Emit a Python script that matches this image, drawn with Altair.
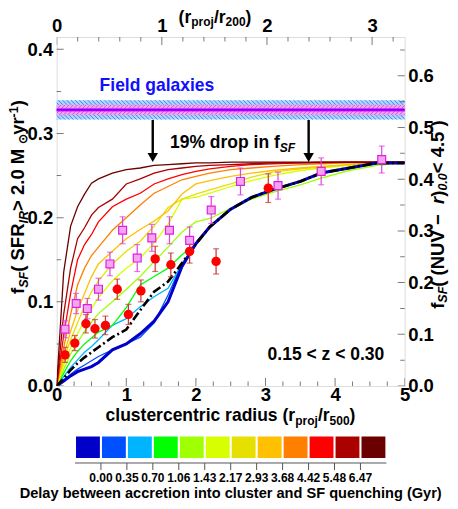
import altair as alt
import pandas as pd

# ---------------- data ----------------
GRID = [0, 0.1, 0.2, 0.3, 0.4, 0.5, 0.6, 0.8, 1.0, 1.2, 1.4, 1.6, 1.8, 2.0, 2.2, 2.5, 2.8, 3.1, 3.5, 3.8, 4.2, 4.6, 5.0]

M_DARKBLUE = [0, 0.006, 0.012, 0.017, 0.020, 0.023, 0.028, 0.043, 0.050, 0.062, 0.077, 0.100, 0.142, 0.169, 0.189, 0.210, 0.224, 0.233, 0.243, 0.253, 0.259, 0.265, 0.265]
M_BLUE     = [0, 0.007, 0.014, 0.020, 0.025, 0.030, 0.035, 0.043, 0.050, 0.058, 0.075, 0.108, 0.145, 0.169, 0.189, 0.210, 0.224, 0.233, 0.243, 0.253, 0.259, 0.265, 0.265]
M_CYAN     = [0, 0.011, 0.022, 0.031, 0.040, 0.047, 0.055, 0.072, 0.080, 0.094, 0.106, 0.116, 0.145, 0.169, 0.189, 0.210, 0.224, 0.233, 0.243, 0.253, 0.259, 0.265, 0.265]
M_GREEN    = [0, 0.015, 0.030, 0.041, 0.050, 0.057, 0.064, 0.072, 0.093, 0.120, 0.130, 0.140, 0.156, 0.169, 0.189, 0.210, 0.224, 0.233, 0.243, 0.253, 0.259, 0.265, 0.265]
M_LIME     = [0, 0.020, 0.038, 0.052, 0.065, 0.076, 0.086, 0.100, 0.115, 0.130, 0.148, 0.165, 0.183, 0.195, 0.199, 0.211, 0.222, 0.230, 0.239, 0.247, 0.256, 0.262, 0.265]
M_YELLOW   = [0, 0.025, 0.045, 0.062, 0.078, 0.092, 0.105, 0.125, 0.140, 0.152, 0.170, 0.192, 0.222, 0.224, 0.229, 0.237, 0.244, 0.250, 0.256, 0.259, 0.262, 0.264, 0.265]
M_OLIVE    = [0, 0.030, 0.055, 0.075, 0.095, 0.112, 0.125, 0.145, 0.160, 0.172, 0.190, 0.212, 0.222, 0.228, 0.233, 0.240, 0.248, 0.254, 0.258, 0.260, 0.263, 0.265, 0.266]
M_GOLD     = [0, 0.035, 0.065, 0.090, 0.110, 0.130, 0.145, 0.160, 0.175, 0.186, 0.196, 0.208, 0.228, 0.240, 0.244, 0.249, 0.253, 0.256, 0.259, 0.261, 0.263, 0.265, 0.266]
M_ORANGE   = [0, 0.045, 0.085, 0.120, 0.140, 0.155, 0.165, 0.185, 0.200, 0.215, 0.229, 0.237, 0.245, 0.249, 0.253, 0.257, 0.259, 0.261, 0.263, 0.264, 0.265, 0.265, 0.266]
M_RED      = [0, 0.060, 0.110, 0.150, 0.168, 0.180, 0.195, 0.213, 0.222, 0.229, 0.240, 0.246, 0.251, 0.255, 0.258, 0.261, 0.263, 0.264, 0.265, 0.265, 0.266, 0.266, 0.266]
M_DARKRED  = [0, 0.085, 0.140, 0.175, 0.188, 0.203, 0.212, 0.222, 0.240, 0.246, 0.253, 0.257, 0.259, 0.261, 0.262, 0.263, 0.264, 0.265, 0.265, 0.266, 0.266, 0.266, 0.266]
M_MAROON   = [0, 0.135, 0.190, 0.213, 0.228, 0.241, 0.246, 0.253, 0.257, 0.259, 0.262, 0.263, 0.264, 0.265, 0.265, 0.266, 0.266, 0.266, 0.266, 0.266, 0.266, 0.266, 0.266]
M_DASHDOT  = [0, 0.009, 0.019, 0.027, 0.034, 0.040, 0.046, 0.058, 0.067, 0.090, 0.112, 0.124, 0.146, 0.169, 0.189, 0.210, 0.224, 0.233, 0.243, 0.253, 0.259, 0.265, 0.265]

DELAY_LABELS = ["0.00", "0.35", "0.70", "1.06", "1.43", "2.17", "2.93", "3.68", "4.42", "5.48", "6.47"]
DELAY_COLORS = ["#0000c8", "#0050ff", "#00b4ff", "#00ff00", "#a0ff00", "#d8ff00",
                "#e6e000", "#ffc000", "#ff8000", "#ff0000", "#aa0000", "#6a0000"]

RED_X = [0.12, 0.26, 0.42, 0.55, 0.70, 0.87, 1.03, 1.21, 1.415, 1.64, 1.91, 2.29, 3.04]
RED_Y = [0.037, 0.051, 0.074, 0.068, 0.072, 0.115, 0.085, 0.113, 0.151, 0.144, 0.160, 0.148, 0.235]
RED_ERR = [0.009, 0.009, 0.011, 0.011, 0.011, 0.012, 0.012, 0.013, 0.015, 0.014, 0.014, 0.015, 0.017]

MAG_X = [0.12, 0.28, 0.44, 0.60, 0.765, 0.947, 1.157, 1.367, 1.62, 1.91, 2.22, 2.64, 3.18, 3.80, 4.67]
MAG_Y = [0.0675, 0.098, 0.092, 0.115, 0.145, 0.185, 0.152, 0.176, 0.185, 0.173, 0.209, 0.243, 0.238, 0.255, 0.269]
MAG_ERR = [0.010, 0.012, 0.012, 0.013, 0.014, 0.016, 0.016, 0.016, 0.016, 0.016, 0.016, 0.016, 0.016, 0.016, 0.016]

FIELD_MEAN = 0.328
FIELD_ERR_OUTER = 0.0115
FIELD_ERR_INNER = 0.006
ARROW_X = [1.38, 3.62]
ARROW_TOP = 0.316
ARROW_HEAD = 0.2715

X_TICKS = [i * 0.25 for i in range(21)]
Y_TICKS = [i * 0.05 for i in range(9)]
Y2_TICKS = [i * 0.05 for i in range(14)]
X2_TICKS = [i * 0.2 for i in range(17)]

# ---------------- geometry / style ----------------
W, H = 348, 349
X_MAX, Y_MAX = 5.0, 0.4146
Y2_MAX, X2_MAX = 0.675, 3.31
FONT = "Liberation Sans"
LBL = 18.5
TTL = 17.5
SUB = 12
VT = 18.5
VS = 12.5
PX_PER_X = W / X_MAX
PX_PER_Y = H / Y_MAX
NB = "\u00a0"

XS = alt.Scale(domain=[0, X_MAX], nice=False, zero=False)
YS = alt.Scale(domain=[0, Y_MAX], nice=False, zero=False)

# Arial-bold advance widths (em/1000) for layout of multi-part titles
_AW = {' ': 278, NB: 278, '(': 333, ')': 333, '/': 278, '.': 278, '<': 584, '>': 584, '%': 889, '-': 333, '−': 584, '⊙': 700}
_AW.update({d: 556 for d in '0123456789'})
_AW.update(dict(zip('abcdefghijklmnopqrstuvwxyz', [556, 611, 556, 611, 556, 333, 611, 611, 278, 278, 556, 278, 889, 611, 611, 611, 611, 389, 556, 333, 611, 556, 778, 556, 556, 500])))
_AW.update(dict(zip('ABCDEFGHIJKLMNOPQRSTUVWXYZ', [722, 722, 722, 722, 667, 611, 778, 722, 278, 556, 722, 611, 833, 722, 778, 667, 778, 722, 667, 611, 722, 667, 944, 667, 667, 611])))


def tw(s, size):
    return sum(_AW.get(c, 556) for c in s) / 1000.0 * size


def rich(pieces, x0, y0, vertical=False, color="black"):
    """pieces: (text, size, shift, italic). shift>0 lowers (subscript)."""
    layers = []
    pos = 0.0
    for text, size, shift, italic in pieces:
        if vertical:
            px, py, ang = x0 + shift, y0 - pos, 270
        else:
            px, py, ang = x0 + pos, y0 + shift, 0
        layers.append(
            alt.Chart(pd.DataFrame({"t": [text.replace(" ", NB)]})).mark_text(
                align="left", baseline="alphabetic", font=FONT, fontWeight="bold",
                fontSize=size, fontStyle="italic" if italic else "normal",
                angle=ang, color=color
            ).encode(x=alt.value(px), y=alt.value(py), text="t:N")
        )
        pos += tw(text, size)
    return layers


def centered(pieces, cx, y0, vertical=False, color="black"):
    total = sum(tw(t, s) for t, s, _, _ in pieces)
    if vertical:
        return rich(pieces, cx, y0 + total / 2, vertical=True, color=color)
    return rich(pieces, cx - total / 2, y0, color=color)


def ax(orient, values, fmt, pad):
    return alt.Axis(orient=orient, values=values, format=fmt, ticks=False, domain=False, grid=False,
                    labelPadding=pad, labelFont=FONT, labelFontWeight="bold", labelFontSize=LBL,
                    labelColor="black", title=None, labelFlush=False)


# ---------------- field band (hatched) ----------------
field = pd.DataFrame({"x0": [0], "x1": [X_MAX], "m": [FIELD_MEAN], "e1": [FIELD_ERR_OUTER], "e2": [FIELD_ERR_INNER]})
fbase = alt.Chart(field).transform_calculate(lo1="datum.m-datum.e1", hi1="datum.m+datum.e1", lo2="datum.m-datum.e2", hi2="datum.m+datum.e2")
band_outer = fbase.mark_rect(color="#a6dcf8").encode(x=alt.X("x0:Q", scale=XS), x2="x1:Q", y=alt.Y("lo1:Q", scale=YS), y2="hi1:Q")
band_inner = fbase.mark_rect(color="#f2a8f0").encode(x=alt.X("x0:Q", scale=XS), x2="x1:Q", y=alt.Y("lo2:Q", scale=YS), y2="hi2:Q")

step = 4.2 / PX_PER_X
d_out = 2 * FIELD_ERR_OUTER * PX_PER_Y / PX_PER_X
d_in = 2 * FIELD_ERR_INNER * PX_PER_Y / PX_PER_X
n_h = int((X_MAX + d_out) / step) + 2
hatch = pd.DataFrame({"k": list(range(n_h))})
hatch_out = alt.Chart(hatch).transform_calculate(
    xa=f"datum.k*{step}-{d_out}", xb=f"datum.k*{step}", ya=f"{FIELD_MEAN + FIELD_ERR_OUTER}", yb=f"{FIELD_MEAN - FIELD_ERR_OUTER}"
).mark_rule(color="#3c5cff", strokeWidth=0.8, clip=True).encode(x=alt.X("xa:Q", scale=XS), x2="xb:Q", y=alt.Y("ya:Q", scale=YS), y2="yb:Q")
hatch_in = alt.Chart(hatch).transform_calculate(
    xa=f"datum.k*{step}-{d_in}", xb=f"datum.k*{step}", ya=f"{FIELD_MEAN - FIELD_ERR_INNER}", yb=f"{FIELD_MEAN + FIELD_ERR_INNER}"
).mark_rule(color="#e030e0", strokeWidth=0.8, clip=True).encode(x=alt.X("xa:Q", scale=XS), x2="xb:Q", y=alt.Y("ya:Q", scale=YS), y2="yb:Q")
line_mag = fbase.mark_rule(color="#ff00ff", strokeWidth=3.2).encode(x=alt.X("x0:Q", scale=XS), x2="x1:Q", y=alt.Y("m:Q", scale=YS))
line_blue = fbase.mark_rule(color="#1a1aff", strokeWidth=1.2).encode(x=alt.X("x0:Q", scale=XS), x2="x1:Q", y=alt.Y("m:Q", scale=YS))

# ---------------- models ----------------
curve_names = ["d%02d" % i for i in range(12)]
curve_vals = [M_DARKBLUE, M_BLUE, M_CYAN, M_GREEN, M_LIME, M_YELLOW, M_OLIVE, M_GOLD, M_ORANGE, M_RED, M_DARKRED, M_MAROON]
rows = []
for n, vals in zip(curve_names[1:], curve_vals[1:]):
    for x, y in zip(GRID, vals):
        rows.append({"x": x, "y": y, "c": n})
models = pd.DataFrame(rows)

thin = alt.Chart(models).mark_line(strokeWidth=1.3, clip=True).encode(
    x=alt.X("x:Q", scale=XS, axis=ax("bottom", [0, 1, 2, 3, 4, 5], "d", 0)),
    y=alt.Y("y:Q", scale=YS, axis=ax("left", [0, 0.1, 0.2, 0.3, 0.4], ".1f", 4)),
    color=alt.Color("c:N", scale=alt.Scale(domain=curve_names[1:], range=DELAY_COLORS[1:]), legend=None),
    order=alt.Order("x:Q"),
)
thick_blue = alt.Chart(pd.DataFrame({"x": GRID, "y": M_DARKBLUE})).mark_line(
    strokeWidth=3, color=DELAY_COLORS[0], clip=True).encode(x=alt.X("x:Q", scale=XS), y=alt.Y("y:Q", scale=YS))
dashdot = alt.Chart(pd.DataFrame({"x": GRID, "y": M_DASHDOT})).mark_line(
    strokeWidth=2.6, color="black", strokeDash=[9, 3, 2, 3], clip=True).encode(x=alt.X("x:Q", scale=XS), y=alt.Y("y:Q", scale=YS))

# ---------------- arrows ----------------
arrows = pd.DataFrame({"x": ARROW_X, "top": [ARROW_TOP] * 2, "head": [ARROW_HEAD] * 2})
arrow_shaft = alt.Chart(arrows).mark_rule(color="black", strokeWidth=2.4).encode(x=alt.X("x:Q", scale=XS), y=alt.Y("top:Q", scale=YS), y2="head:Q")
arrow_head = alt.Chart(arrows).mark_point(shape="triangle-down", filled=True, color="black", size=110, opacity=1).encode(x=alt.X("x:Q", scale=XS), y=alt.Y("head:Q", scale=YS))

# ---------------- measurements ----------------
red = pd.DataFrame({"x": RED_X, "y": RED_Y, "e": RED_ERR})
mag = pd.DataFrame({"x": MAG_X, "y": MAG_Y, "e": MAG_ERR})


def errbars(df, color):
    b = alt.Chart(df).transform_calculate(lo="datum.y-datum.e", hi="datum.y+datum.e")
    bar = b.mark_rule(color=color, strokeWidth=1.2).encode(x=alt.X("x:Q", scale=XS), y=alt.Y("lo:Q", scale=YS), y2="hi:Q")
    cap1 = b.mark_tick(color=color, thickness=1.2, size=6, orient="horizontal").encode(x=alt.X("x:Q", scale=XS), y=alt.Y("lo:Q", scale=YS))
    cap2 = b.mark_tick(color=color, thickness=1.2, size=6, orient="horizontal").encode(x=alt.X("x:Q", scale=XS), y=alt.Y("hi:Q", scale=YS))
    return [bar, cap1, cap2]


mag_pts = alt.Chart(mag).mark_point(shape="square", filled=True, fill="#f2a6f2", stroke="#e020e0", strokeWidth=1.2, size=62, opacity=1).encode(x=alt.X("x:Q", scale=XS), y=alt.Y("y:Q", scale=YS))
red_pts = alt.Chart(red).mark_point(shape="circle", filled=True, color="#ff0000", size=88, opacity=1).encode(x=alt.X("x:Q", scale=XS), y=alt.Y("y:Q", scale=YS))

# inward ticks (IDL style)
xt = pd.DataFrame({"v": X_TICKS, "s": [16 if abs(v - round(v)) < 1e-9 else 9 for v in X_TICKS]})
yt = pd.DataFrame({"v": Y_TICKS, "s": [14 if abs(v * 10 - round(v * 10)) < 1e-9 else 9 for v in Y_TICKS]})
tick_b = alt.Chart(xt).mark_tick(color="#444", thickness=1, orient="vertical", clip=True).encode(x=alt.X("v:Q", scale=XS), y=alt.value(H), size=alt.Size("s:Q", scale=None))
tick_l = alt.Chart(yt).mark_tick(color="#444", thickness=1, orient="horizontal", clip=True).encode(y=alt.Y("v:Q", scale=YS), x=alt.value(0), size=alt.Size("s:Q", scale=None))

main_layers = [band_outer, hatch_out, band_inner, hatch_in, line_mag, line_blue, thin, thick_blue, dashdot,
               arrow_shaft, arrow_head] + errbars(mag, "#e040e0") + errbars(red, "#c83232") + [mag_pts, red_pts, tick_b, tick_l]

# ---------------- texts (pixel offsets from plot origin) ----------------
OX, OY = 56.7, 37.0
texts = []
texts += centered([("Field galaxies", TTL, 0, False)], 157 - OX, 90.5 - OY, color="#1010ff")
texts += rich([("19% drop in f", TTL, 0, False), ("SF", SUB, 4, True)], 170 - OX, 148 - OY)
texts += centered([("0.15 < z < 0.30", TTL, 0, False)], 326 - OX, 360 - OY)
texts += centered([("clustercentric radius (r", TTL, 0, False), ("proj", SUB, 4, False), ("/r", TTL, 0, False), ("500", SUB, 4, False), (")", TTL, 0, False)], 230.5 - OX, 421.5 - OY)
texts += centered([("(r", TTL, 0, False), ("proj", SUB, 3.5, False), ("/r", TTL, 0, False), ("200", SUB, 3.5, False), (")", TTL, 0, False)], 215 - OX, 22.5 - OY)
texts += centered([("f", VT, 0, False), ("SF", VS, 4, True), ("( SFR", VT, 0, False), ("IR", VS, 4, True), (" > 2.0 M", VT, 0, False), ("⊙", VS, 3, False), ("yr", VT, 0, False), ("-1", VS, -6, False), (")", VT, 0, False)], 24.5 - OX, 197 - OY, vertical=True)
texts += centered([("f", VT, 0, False), ("SF", VS, 3.5, True), (" ( (NUV − ", VT, 0, False), ("r", VT, 0, True), (")", VT, 0, False), ("0.0", VS, 3.5, True), (" < 4.5 )", VT, 0, False)], 444 - OX, 212 - OY, vertical=True)

main = alt.layer(*(main_layers + texts))

# ---------------- top / right axes ----------------
x2t = pd.DataFrame({"v": X2_TICKS, "s": [16 if abs(v - round(v)) < 1e-9 else 9 for v in X2_TICKS]})
top = alt.Chart(x2t).mark_tick(color="#444", thickness=1, orient="vertical", clip=True).encode(
    x=alt.X("v:Q", scale=alt.Scale(domain=[0, X2_MAX], nice=False, zero=False), axis=ax("top", [0, 1, 2, 3], "d", 2)),
    y=alt.value(0), size=alt.Size("s:Q", scale=None))

y2t = pd.DataFrame({"v": Y2_TICKS, "s": [14 if abs(v * 10 - round(v * 10)) < 1e-9 else 9 for v in Y2_TICKS]})
right = alt.Chart(y2t).mark_tick(color="#444", thickness=1, orient="horizontal", clip=True).encode(
    y=alt.Y("v:Q", scale=alt.Scale(domain=[0, Y2_MAX], nice=False, zero=False), axis=ax("right", [0, 0.1, 0.2, 0.3, 0.4, 0.5, 0.6], ".1f", 3)),
    x=alt.value(W), size=alt.Size("s:Q", scale=None))

# ---------------- colour bar (legend) ----------------
CB = alt.Scale(domain=[-0.704, 12.704], nice=False, zero=False)
cb = pd.DataFrame({"i": list(range(12)), "col": DELAY_COLORS})
cb_rect = alt.Chart(cb).transform_calculate(a="datum.i+0.04", b="datum.i+0.96").mark_rect().encode(
    x=alt.X("a:Q", scale=CB, axis=None), x2="b:Q", y=alt.value(436.5 - OY), y2=alt.value(458 - OY),
    color=alt.Color("col:N", scale=None))
cb_line = alt.Chart(pd.DataFrame({"a": [0], "b": [12]})).mark_rule(color="#555", strokeWidth=1).encode(
    x=alt.X("a:Q", scale=CB, axis=None), x2="b:Q", y=alt.value(463 - OY))
cbt = pd.DataFrame({"i": list(range(1, 12)), "lab": DELAY_LABELS})
cb_ticks = alt.Chart(cbt).mark_rule(color="#555", strokeWidth=1).encode(
    x=alt.X("i:Q", scale=CB, axis=None), y=alt.value(463 - OY), y2=alt.value(470 - OY))
cb_labels = alt.Chart(cbt).mark_text(font=FONT, fontWeight="bold", fontSize=12, baseline="alphabetic", color="black").encode(
    x=alt.X("i:Q", scale=CB, axis=None), y=alt.value(482 - OY), text="lab:N")
cb_title = alt.Chart(pd.DataFrame({"a": [6.0], "t": ["Delay between accretion into cluster and SF quenching (Gyr)"]})).mark_text(
    font=FONT, fontWeight="bold", fontSize=14.6, baseline="alphabetic", color="black").encode(
    x=alt.X("a:Q", scale=CB, axis=None), y=alt.value(498 - OY), text="t:N")
colorbar = alt.layer(cb_rect, cb_line, cb_ticks, cb_labels, cb_title)

chart = alt.layer(main, top, right, colorbar).resolve_scale(x="independent", y="independent", color="independent", size="independent").properties(
    width=W, height=H,
    autosize=alt.AutoSizeParams(type="none"),
    padding={"left": 48.7, "top": 29, "right": 45, "bottom": 115},
).configure_view(stroke="#555", strokeWidth=1.2).configure(background="white")

chart.save("out.html", embed_options={"renderer": "svg", "actions": False})
